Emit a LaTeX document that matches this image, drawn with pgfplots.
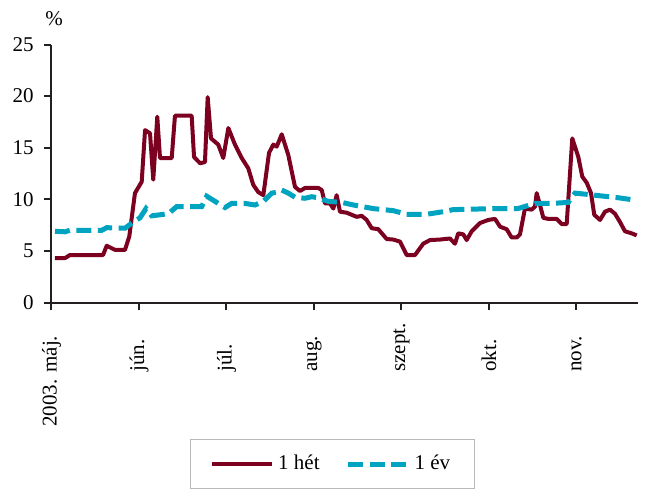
\documentclass[border=0pt]{standalone}
\usepackage{fontspec}
\setmainfont{Liberation Serif}
\usepackage{pgfplots}
\pgfplotsset{compat=1.18}
\definecolor{hetred}{RGB}{124,0,32}
\definecolor{evblue}{RGB}{0,163,192}
\definecolor{axgray}{RGB}{35,31,32}
\begin{document}
\begin{tikzpicture}[font=\fontsize{10.5bp}{12.6bp}\selectfont]
\begin{axis}[name=ax, scale only axis, width=293.25bp, height=129bp,
  xmin=0, xmax=6.703, ymin=0, ymax=25,
  axis lines*=left, axis line style={axgray, line width=1bp, -},
  tick style={axgray, line width=1bp},
  tick align=outside, major tick length=3.5bp,
  ytick={0,5,...,25},
  xtick={1,...,6}, xticklabels={jún.,júl.,aug.,szept.,okt.,nov.},
  extra x ticks={0}, extra x tick labels={2003. máj.},
  extra x tick style={every x tick label/.style={yshift=-13bp, rotate=90, anchor=east, inner sep=0pt}},
  xticklabel style={yshift=-31.25bp, rotate=90, anchor=west, inner sep=0pt},
  yticklabel style={anchor=east, inner sep=0pt, xshift=-5.25bp},
  /pgf/number format/assume math mode=true,
  legend columns=2,
  legend style={at={(0.4786,-0.528)}, anchor=north, draw=gray!55, line width=0.6bp,
    inner xsep=10bp, inner ysep=6bp,
    /tikz/every even column/.append style={column sep=11bp}},
  legend image code/.code={\draw[#1] (0bp,0bp) -- (30bp,0bp);},
]
\addplot[hetred, line width=2bp, line join=round] coordinates {
(0.040,4.3) (0.154,4.3) (0.211,4.6) (0.589,4.6) (0.631,5.5) (0.726,5.1) (0.840,5.1)
(0.889,6.4) (0.954,10.6) (1.031,11.7) (1.069,16.7) (1.126,16.4) (1.163,11.9) (1.209,18.0)
(1.240,14.0) (1.374,14.0) (1.411,18.1) (1.602,18.1) (1.629,14.1) (1.697,13.5) (1.754,13.6)
(1.785,19.9) (1.823,15.9) (1.906,15.3) (1.963,14.0) (2.021,16.9) (2.097,15.3) (2.174,14.0)
(2.249,13.0) (2.306,11.4) (2.363,10.7) (2.421,10.4) (2.486,14.5) (2.535,15.3) (2.574,15.1)
(2.631,16.3) (2.706,14.3) (2.783,11.2) (2.840,10.8) (2.897,11.1) (3.049,11.1) (3.088,10.9)
(3.126,9.6) (3.183,9.6) (3.221,9.1) (3.259,10.4) (3.297,8.8) (3.374,8.7) (3.488,8.3)
(3.545,8.4) (3.602,8.0) (3.659,7.2) (3.735,7.1) (3.831,6.15) (3.906,6.1) (3.983,5.9)
(4.059,4.6) (4.154,4.6) (4.249,5.7) (4.326,6.05) (4.440,6.1) (4.554,6.2) (4.611,5.7)
(4.649,6.7) (4.706,6.6) (4.745,6.05) (4.802,6.9) (4.897,7.7) (4.992,8.0) (5.069,8.1)
(5.126,7.35) (5.202,7.1) (5.259,6.3) (5.317,6.3) (5.354,6.6) (5.411,9.1) (5.488,9.0)
(5.526,9.3) (5.545,10.6) (5.583,9.45) (5.621,8.2) (5.678,8.1) (5.774,8.1) (5.831,7.6)
(5.888,7.6) (5.952,15.9) (6.021,14.1) (6.066,12.2) (6.117,11.6) (6.166,10.6) (6.203,8.5)
(6.269,8.0) (6.326,8.8) (6.383,9.0) (6.440,8.6) (6.497,7.8) (6.554,6.9) (6.631,6.7) (6.688,6.5)
};
\addlegendentry{1 hét}
\addplot[evblue, line width=2.5bp, dash pattern=on 7.5bp off 3.25bp] coordinates {
(0.040,6.9) (0.154,6.85) (0.211,7.0) (0.574,7.0) (0.631,7.25) (0.840,7.2) (0.935,7.8)
(1.011,8.2) (1.080,9.1) (1.145,8.4) (1.335,8.6) (1.431,9.3) (1.717,9.3) (1.774,10.3)
(1.869,9.8) (1.983,9.2) (2.059,9.6) (2.211,9.6) (2.326,9.45) (2.421,9.8) (2.517,10.6)
(2.592,10.7) (2.631,10.9) (2.706,10.6) (2.783,10.2) (2.897,10.1) (2.974,10.25) (3.049,10.15)
(3.163,9.8) (3.317,9.7) (3.449,9.45) (3.678,9.1) (3.906,8.9) (4.059,8.55) (4.288,8.55)
(4.478,8.8) (4.592,9.0) (5.069,9.1) (5.331,9.1) (5.526,9.6) (5.717,9.6) (5.906,9.7)
(5.983,10.6) (6.097,10.5) (6.478,10.15) (6.688,9.9)
};
\addlegendentry{1 év}
\end{axis}
\node at ([xshift=1.25bp, yshift=12.75bp]ax.north west) {\%};
\pgfresetboundingbox
\path ([xshift=-25.75bp, yshift=22.25bp]ax.north west) rectangle ([xshift=4bp, yshift=-95.75bp]ax.south east);
\end{tikzpicture}
\end{document}
